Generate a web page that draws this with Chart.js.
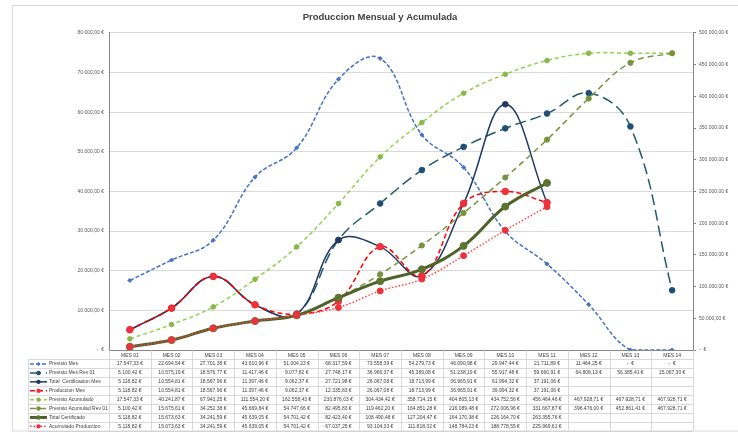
<!DOCTYPE html>
<html>
<head>
<meta charset="utf-8">
<script src="https://cdn.jsdelivr.net/npm/chart.js@4.4.0/dist/chart.umd.min.js"></script>
<style>
  html, body { margin: 0; padding: 0; background: #ffffff; }
  #wrap { width: 738px; height: 432px; position: relative; }
</style>
</head>
<body>
<div id="wrap"><canvas id="chart" width="738" height="432"></canvas></div>
<script>
  // Categories
  const months = ['MES 01', 'MES 02', 'MES 03', 'MES 04', 'MES 05', 'MES 06', 'MES 07',
                  'MES 08', 'MES 09', 'MES 10', 'MES 11', 'MES 12', 'MES 13', 'MES 14'];

  // Monthly series (left axis)
  const previstoMes = [17547.33, 22694.54, 27701.38, 43610.96, 51004.23, 68317.59, 73558.39,
                       54279.73, 46090.98, 29947.44, 21711.89, 11464.25, 0, 0];
  const previstoMesRev01 = [5100.42, 10575.19, 18576.77, 11417.46, 9077.82, 27748.17, 36966.37,
                            45389.08, 51238.19, 55917.48, 59660.91, 64808.13, 56385.41, 15067.30];
  const totalCertMes = [5118.82, 10554.81, 18567.96, 11397.46, 9062.37, 27721.98, 26067.08,
                        18713.99, 36965.91, 61994.32, 37191.06, null, null, null];
  const produccionMes = [5118.82, 10554.81, 18567.96, 11397.46, 9062.37, 12335.83, 26067.08,
                         18713.99, 36965.91, 39994.32, 37191.06, null, null, null];

  // Accumulated series (right axis)
  const previstoAcum = [17547.33, 40241.87, 67943.25, 111554.20, 162558.43, 230876.03, 304434.42,
                        358714.15, 404805.13, 434752.56, 456464.46, 467928.71, 467928.71, 467928.71];
  const previstoAcumRev01 = [5100.42, 15675.61, 34252.38, 45669.84, 54747.66, 82495.83, 119462.20,
                             164851.28, 216089.48, 272006.96, 331667.87, 396476.00, 452861.41, 467928.71];
  const totalCertificado = [5118.82, 15673.63, 34241.59, 45639.05, 54701.42, 82423.40, 108490.48,
                            127204.47, 164170.38, 226164.70, 263355.76, null, null, null];
  const acumProduccion = [5118.82, 15673.63, 34241.59, 45639.05, 54701.42, 67037.25, 93104.33,
                          111818.32, 148784.23, 188778.55, 225969.61, null, null, null];

  // Axis ranges
  const leftMax = 80000, leftStep = 10000;
  const rightMax = 500000, rightStep = 50000;

  const FONT = "'Liberation Sans', Arial, sans-serif";

  function euro(v) {
    if (v === 0) return '-  €';
    const parts = v.toFixed(2).split('.');
    return parts[0].replace(/\B(?=(\d{3})+(?!\d))/g, '.') + ',' + parts[1] + ' €';
  }

  function series(label, data, color, axis, opts) {
    return Object.assign({
      label: label,
      data: data,
      yAxisID: axis,
      borderColor: color,
      backgroundColor: color,
      pointBackgroundColor: color,
      pointBorderColor: color,
      pointBorderWidth: 1,
      borderWidth: 1.5,
      tension: 0.4,
      fill: false,
      spanGaps: false
    }, opts);
  }

  const datasets = [
    series('Previsto Mes', previstoMes, '#4472C4', 'y',
      { borderDash: [4, 2], pointStyle: 'rectRot', pointRadius: 2 }),
    series('Previsto Mes Rev 01', previstoMesRev01, '#215968', 'y',
      { borderDash: [11, 5], pointRadius: 2.8, pointBackgroundColor: '#1F4E79', pointBorderColor: '#1F4E79' }),
    series('Total  Certificacion Mes', totalCertMes, '#1F3864', 'y',
      { pointRadius: 2.8 }),
    series('Produccion Mes', produccionMes, '#FF0000', 'y',
      { borderDash: [5, 3], pointRadius: 3.3, pointBackgroundColor: '#F0303A', pointBorderColor: '#F0303A' }),
    series('Previsto Acumulado', previstoAcum, '#92D050', 'y1',
      { borderDash: [4, 3], pointRadius: 2.3, pointBackgroundColor: '#86B84A', pointBorderColor: '#86B84A' }),
    series('Previsto Acumulad Rev 01', previstoAcumRev01, '#77933C', 'y1',
      { borderDash: [6, 4], pointRadius: 2.6 }),
    series('Total Certificado', totalCertificado, '#4F6228', 'y1',
      { borderWidth: 3, pointRadius: 3.5, pointBackgroundColor: '#5C7431', pointBorderColor: '#5C7431' }),
    series('Acumulado Produccion', acumProduccion, '#FF3F3F', 'y1',
      { borderDash: [1.5, 2], pointRadius: 3, pointBackgroundColor: '#F0303A', pointBorderColor: '#F0303A' })
  ];
  // later series drawn on top, as in the source
  datasets.forEach((d, i) => { d.order = datasets.length - i; });

  // Outer frame of the chart object
  const framePlugin = {
    id: 'frame',
    beforeDraw(chart) {
      const ctx = chart.ctx;
      ctx.save();
      ctx.fillStyle = '#ffffff';
      ctx.fillRect(0, 0, chart.width, chart.height);
      ctx.strokeStyle = '#d9d9d9';
      ctx.lineWidth = 1;
      ctx.strokeRect(12.5, 5.5, 740, 425.5);
      ctx.restore();
    }
  };

  // Excel style data table under the plot
  const tablePlugin = {
    id: 'dataTable',
    afterDraw(chart) {
      const ctx = chart.ctx;
      const a = chart.chartArea;
      const xs = chart.scales.x;
      const n = months.length;
      const colW = (a.right - a.left) / n;
      const top = a.bottom;
      const headH = 9.3;
      const rowH = 8.9;
      const legL = 28.5;
      const rowsTop = top + headH;
      const bottom = rowsTop + datasets.length * rowH;

      ctx.save();
      ctx.strokeStyle = '#c8c8c8';
      ctx.lineWidth = 0.7;
      ctx.beginPath();
      for (let r = 0; r <= datasets.length; r++) {
        const y = Math.round(rowsTop + r * rowH) + 0.5;
        ctx.moveTo(legL, y);
        ctx.lineTo(a.right, y);
      }
      for (let c = 0; c <= n; c++) {
        const x = Math.round(a.left + c * colW) + 0.5;
        ctx.moveTo(x, top);
        ctx.lineTo(x, bottom);
      }
      ctx.moveTo(legL, rowsTop);
      ctx.lineTo(legL, bottom);
      ctx.stroke();

      ctx.fillStyle = '#404040';
      ctx.font = '5px ' + FONT;
      ctx.textBaseline = 'middle';
      ctx.textAlign = 'center';
      months.forEach((m, i) => {
        ctx.fillText(m, xs.getPixelForValue(i), top + headH / 2 + 0.5);
      });

      datasets.forEach((d, r) => {
        const cy = rowsTop + r * rowH + rowH / 2 + 0.3;
        // legend key
        ctx.save();
        ctx.strokeStyle = d.borderColor;
        ctx.lineWidth = d.borderWidth;
        ctx.setLineDash(d.borderDash || []);
        ctx.beginPath();
        ctx.moveTo(30, cy);
        ctx.lineTo(47, cy);
        ctx.stroke();
        ctx.setLineDash([]);
        ctx.fillStyle = d.pointBackgroundColor;
        ctx.beginPath();
        if (d.pointStyle === 'rectRot') {
          ctx.moveTo(38.5, cy - 2); ctx.lineTo(40.5, cy); ctx.lineTo(38.5, cy + 2); ctx.lineTo(36.5, cy);
        } else {
          ctx.arc(38.5, cy, Math.min(d.pointRadius, 2.2), 0, Math.PI * 2);
        }
        ctx.fill();
        ctx.restore();

        ctx.textAlign = 'left';
        ctx.fillText(d.label, 49, cy);
        ctx.textAlign = 'center';
        d.data.forEach((v, i) => {
          if (v === null || v === undefined) return;
          ctx.fillText(euro(v), xs.getPixelForValue(i), cy);
        });
      });
      ctx.restore();
    }
  };

  new Chart(document.getElementById('chart').getContext('2d'), {
    type: 'line',
    data: { labels: months, datasets: datasets },
    plugins: [framePlugin, tablePlugin],
    options: {
      responsive: false,
      animation: false,
      devicePixelRatio: 1,
      layout: { padding: { left: 22, right: 0, top: 0, bottom: 0 } },
      plugins: {
        legend: { display: false },
        tooltip: { enabled: false },
        title: {
          display: true,
          text: 'Produccion Mensual y Acumulada',
          color: '#404040',
          font: { family: FONT, size: 9.5, weight: 'bold' },
          padding: { top: 11.5, bottom: 10 }
        }
      },
      scales: {
        x: {
          offset: true,
          afterFit: s => { s.height = 82; },
          grid: { display: false },
          border: { display: true, color: '#868686', width: 1 },
          ticks: { display: false }
        },
        y: {
          position: 'left',
          min: 0,
          max: leftMax,
          afterFit: s => { s.width = 87; },
          grid: { color: '#d9d9d9', lineWidth: 1, drawTicks: false },
          border: { display: true, color: '#868686', width: 1 },
          ticks: {
            stepSize: leftStep,
            padding: 5,
            color: '#595959',
            font: { family: FONT, size: 5 },
            callback: v => euro(v)
          }
        },
        y1: {
          position: 'right',
          min: 0,
          max: rightMax,
          afterFit: s => { s.width = 45; },
          grid: { drawOnChartArea: false, color: '#868686', tickLength: 3 },
          border: { display: true, color: '#868686', width: 1 },
          ticks: {
            stepSize: rightStep,
            padding: 3,
            color: '#595959',
            font: { family: FONT, size: 5 },
            callback: v => euro(v)
          }
        }
      }
    }
  });
</script>
</body>
</html>
